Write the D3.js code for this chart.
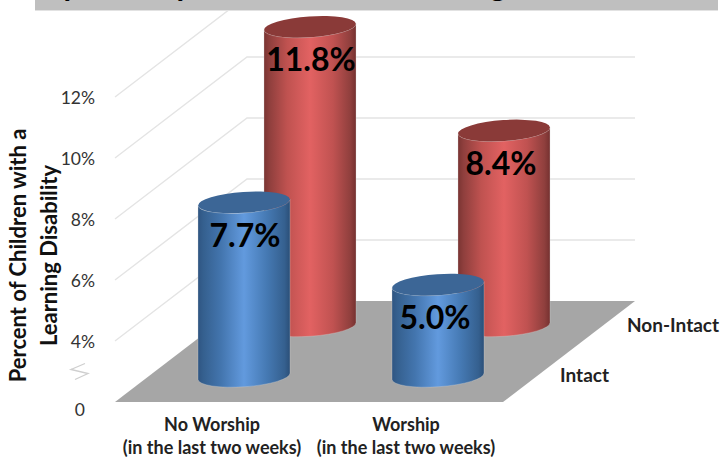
<!DOCTYPE html>
<html><head><meta charset="utf-8">
<script src="https://cdnjs.cloudflare.com/ajax/libs/d3/7.8.5/d3.min.js"></script>
<style>html,body{margin:0;padding:0;background:#fff}svg{display:block}text{font-family:Lato,sans-serif}</style>
</head><body><script>
const categories = ["No Worship", "Worship"];
const categoryNote = "(in the last two weeks)";
const seriesNames = ["Intact", "Non-Intact"];
const intactValues = [7.7, 5.0];
const nonIntactValues = [11.8, 8.4];
const tickValues = [2, 4, 6, 8, 10, 12];
const tickLabels = ["0", "4%", "6%", "8%", "10%", "12%"];
const axisTitle = ["Percent of Children with a", "Learning Disability"];
const titleFragments = [["y", 70], ["y", 183], ["g", 498]];

const W = 722, H = 458;
const svg = d3.select("body").append("svg").attr("width", W).attr("height", H);
const defs = svg.append("defs");

const y = d3.scaleLinear().domain([2, 12]).range([402, 97]);
const x = d3.scaleBand().domain(categories).range([115, 503]);
const depthX = d3.scaleBand().domain(seriesNames).range([0, 132]);
const depthY = d3.scaleBand().domain(seriesNames).range([0, -101]);
const depthWall = { x: depthX.range()[1], y: depthY.range()[1] };

// cropped title band
const clip = defs.append("clipPath").attr("id", "titleClip");
clip.append("rect").attr("x", 35).attr("y", 0).attr("width", 683).attr("height", 10);
svg.append("rect").attr("x", 35).attr("y", 0).attr("width", 683).attr("height", 10).attr("fill", "#bfbfbf");
svg.append("line").attr("x1", 35).attr("x2", 718).attr("y1", 10.5).attr("y2", 10.5).attr("stroke", "#e2e2e2");
svg.append("g").attr("clip-path", "url(#titleClip)").selectAll("text").data(titleFragments).join("text")
  .attr("x", d => d[1]).attr("y", -4).attr("text-anchor", "middle")
  .attr("font-size", 32).attr("font-weight", 700).attr("fill", "#000").text(d => d[0]);

// grid walls (clipped below the title band)
const gridClip = defs.append("clipPath").attr("id", "gridClip");
gridClip.append("rect").attr("x", 0).attr("y", 11).attr("width", W).attr("height", H);
const grid = svg.append("g").attr("clip-path", "url(#gridClip)");
grid.selectAll("path").data(tickValues.slice(1)).join("path")
  .attr("fill", "none").attr("stroke", "#e4e4e4").attr("stroke-width", 1.4)
  .attr("d", v => d3.line()([
    [x.range()[0], y(v)],
    [x.range()[0] + depthWall.x, y(v) + depthWall.y],
    [x.range()[1] + depthWall.x, y(v) + depthWall.y]
  ]));

// floor
svg.append("path").attr("fill", "#a6a6a6").attr("d", d3.line()([
  [x.range()[0], y(2)],
  [x.range()[1], y(2)],
  [x.range()[1] + depthWall.x, y(2) + depthWall.y],
  [x.range()[0] + depthWall.x, y(2) + depthWall.y]
]) + "Z");

// y axis
const axis = d3.axisLeft(y).tickValues(tickValues)
  .tickFormat((d, i) => tickLabels[i]).tickSize(0).tickPadding(20);
const axisG = svg.append("g").attr("transform", "translate(115,0)").call(axis);
axisG.select(".domain").remove();
axisG.selectAll("text").attr("font-size", 17.5).attr("fill", "#333").attr("font-family", "Lato,sans-serif")
  .attr("dy", (d, i) => i === 0 ? "0.75em" : "0.35em")
  .attr("dx", (d, i) => i === 0 ? -10 : 0);

// axis break mark
svg.append("path").attr("fill", "none").attr("stroke", "#cfcfcf").attr("stroke-width", 1.3)
  .attr("d", d3.line()([[85, y(3) - 8], [71, y(3) - 2], [88, y(3) + 2], [75, y(3) + 8]]));

// axis title
axisTitle.forEach((t, i) => {
  svg.append("text").attr("transform", `translate(${26 + i * 31},255.5) rotate(-90)`)
    .attr("text-anchor", "middle").attr("font-size", 22).attr("font-weight", 700)
    .attr("fill", "#111").text(t);
});

// gradients
function gradient(id, stops) {
  const g = defs.append("linearGradient").attr("id", id).attr("x1", 0).attr("x2", 1).attr("y1", 0).attr("y2", 0);
  stops.forEach(s => g.append("stop").attr("offset", s[0]).attr("stop-color", s[1]));
}
gradient("blueBody", [[0, "#2f5582"], [0.06, "#35608f"], [0.25, "#4375ae"], [0.5, "#629ade"], [0.75, "#4579b3"], [0.94, "#35608f"], [1, "#2b4f78"]]);
gradient("redBody", [[0, "#7a3432"], [0.06, "#8f3f3d"], [0.25, "#bf5250"], [0.5, "#e26262"], [0.75, "#c05251"], [0.94, "#8f3f3d"], [1, "#753130"]]);

const styles = { "Intact": { body: "url(#blueBody)", top: "#3c6696" }, "Non-Intact": { body: "url(#redBody)", top: "#8a3a38" } };

const rows = [];
seriesNames.slice().reverse().forEach(s => {
  const vals = s === "Intact" ? intactValues : nonIntactValues;
  categories.forEach((c, i) => rows.push({ series: s, category: c, value: vals[i] }));
});

const rx = 46, ry = 10.5, tiltDeg = -4;
const tiltDy = rx * Math.sin(tiltDeg * Math.PI / 180);
const barCx = d => x(d.category) + x.bandwidth() / 2 + depthX(d.series) + depthX.bandwidth() / 2 - 1;
const shift = d => depthY(d.series) + depthY.bandwidth() / 2 - 0.5;

const bars = svg.append("g").selectAll("g").data(rows).join("g")
  .attr("transform", d => `translate(${barCx(d)},0)`);
bars.append("path").attr("fill", d => styles[d.series].body)
  .attr("stroke", "#d8d8d8").attr("stroke-opacity", .5).attr("stroke-width", .6)
  .attr("d", d => {
    const t = y(d.value) + shift(d), b = y(2) + shift(d);
    return `M${-rx},${t - tiltDy}L${-rx},${b - tiltDy}A${rx},${ry} ${tiltDeg} 0 0 ${rx},${b + tiltDy}L${rx},${t + tiltDy}A${rx},${ry} ${tiltDeg} 0 1 ${-rx},${t - tiltDy}Z`;
  });
bars.append("ellipse").attr("rx", rx).attr("ry", ry).attr("fill", d => styles[d.series].top)
  .attr("transform", d => `translate(0,${y(d.value) + shift(d)}) rotate(${tiltDeg})`);

const fmt = d3.format(".1f");
bars.append("text").attr("text-anchor", "middle")
  .attr("x", d => d.category === categories[0] ? 1 : -3)
  .attr("y", d => y(d.value) + shift(d) + 33).attr("dy", "0.35em")
  .attr("font-size", 32).attr("font-weight", 700).attr("fill", "#000")
  .text(d => fmt(d.value) + "%");

// category labels
const catG = svg.append("g").selectAll("text").data(categories).join("text")
  .attr("text-anchor", "middle").attr("font-size", 18).attr("font-weight", 700).attr("fill", "#222");
catG.append("tspan").attr("x", c => x(c) + x.bandwidth() / 2).attr("y", 431).text(c => c);
catG.append("tspan").attr("x", c => x(c) + x.bandwidth() / 2).attr("y", 454).text(categoryNote);

// depth labels
const seriesLabelX = { "Intact": 560, "Non-Intact": 627 };
svg.append("g").selectAll("text").data(seriesNames).join("text")
  .attr("x", s => seriesLabelX[s]).attr("y", s => y(2) + depthY(s) + depthY.bandwidth() / 2 - 1).attr("dy", "0.35em")
  .attr("font-size", 19).attr("font-weight", 700).attr("fill", "#222").text(s => s);
</script></body></html>
